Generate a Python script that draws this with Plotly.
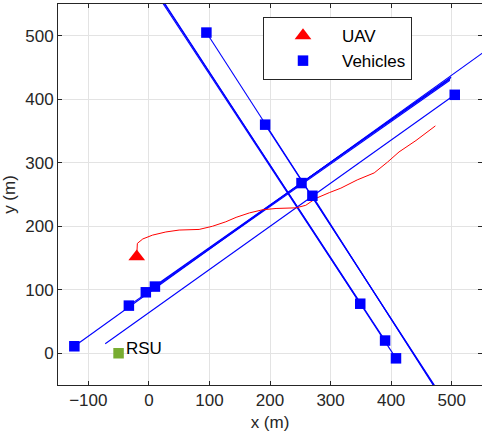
import plotly.graph_objects as go

# ---------------- data ----------------
vehicle_x = [95, 192, 252, 270, 505, 349, 390, 408, -123, -33, -5, 10]
vehicle_y = [505, 360, 268, 248, 407, 78, 20, -8, 11, 75, 96, 105]

# trajectory end points for each vehicle (same order as above)
traj_end_x = [477, 478, 497, 476, -72, 17, 19, 20, 560, 497, 498, 499]
traj_end_y = [-60, -60, 432, -60, 15, 560, 560, 560, 479, 430, 433, 435]

uav_x = [-20]
uav_y = [152]
uav_path_x = [-20, -20, -19, -10, 6, 28, 50, 83, 105, 127, 144, 166, 188, 210,
              243, 259, 276, 298, 317, 344, 372, 394, 413, 441, 473]
uav_path_y = [152, 167, 173, 180, 186, 191, 194, 195, 200, 207, 214, 221, 226, 228,
              229, 233, 244, 253, 260, 273, 284, 301, 317, 335, 358]

rsu_x = [-50]
rsu_y = [0]
rsu_label = "RSU"

x_ticks = [-100, 0, 100, 200, 300, 400, 500]
y_ticks = [0, 100, 200, 300, 400, 500]
x_range = [-150, 550]
y_range = [-50, 550]

FONT = "Liberation Sans, Arial, Helvetica, sans-serif"
AX = "#262626"
BLUE = "#0000FF"
RED = "#FF0000"
GREEN = "#77AC30"

fig = go.Figure()

# vehicle trajectories
for sx, sy, ex, ey in zip(vehicle_x, vehicle_y, traj_end_x, traj_end_y):
    fig.add_trace(go.Scatter(x=[sx, ex], y=[sy, ey], mode="lines",
                             line=dict(color=BLUE, width=1.1),
                             showlegend=False, hoverinfo="skip"))

# UAV trajectory
fig.add_trace(go.Scatter(x=uav_path_x, y=uav_path_y, mode="lines",
                         line=dict(color=RED, width=1),
                         showlegend=False, hoverinfo="skip"))

# UAV marker
fig.add_trace(go.Scatter(x=uav_x, y=uav_y, mode="markers", name="UAV",
                         marker=dict(symbol="triangle-up", size=14.5, color=RED,
                                     line=dict(width=0))))

# Vehicles
fig.add_trace(go.Scatter(x=vehicle_x, y=vehicle_y, mode="markers", name="Vehicles",
                         marker=dict(symbol="square", size=10.5, color=BLUE,
                                     line=dict(width=0))))

# RSU
fig.add_trace(go.Scatter(x=rsu_x, y=rsu_y, mode="markers", showlegend=False,
                         marker=dict(symbol="square", size=10.5, color=GREEN,
                                     line=dict(width=0))))
fig.add_annotation(x=rsu_x[0], y=rsu_y[0], text=rsu_label, showarrow=False,
                   xanchor="left", yanchor="middle", xshift=5, yshift=5,
                   font=dict(family=FONT, size=17, color="black"))

axis_common = dict(showgrid=True, gridcolor="#e3e3e3", gridwidth=1,
                   zeroline=False, showline=True, linecolor=AX, linewidth=1,
                   mirror="ticks", ticks="inside", ticklen=4, tickcolor=AX,
                   tickfont=dict(family=FONT, size=17, color=AX),
                   automargin=False)

fig.update_xaxes(range=x_range, tickvals=x_ticks,
                 title=dict(text="x (m)", font=dict(family=FONT, size=17, color=AX),
                            standoff=6),
                 **axis_common)
fig.update_yaxes(range=y_range, tickvals=y_ticks,
                 title=dict(text="y (m)", font=dict(family=FONT, size=17, color=AX),
                            standoff=6),
                 **axis_common)

fig.update_layout(
    width=482, height=439,
    margin=dict(l=58, r=0, t=4, b=54),
    plot_bgcolor="white", paper_bgcolor="white",
    font=dict(family=FONT, size=17, color=AX),
    legend=dict(x=0.4835, y=0.9659, xanchor="left", yanchor="top",
                bgcolor="white", bordercolor=AX, borderwidth=1,
                font=dict(family=FONT, size=17, color="black"),
                itemwidth=68),
)

fig.write_html("out.html", config={"displayModeBar": False},
               post_script="document.body.style.margin='0';document.body.style.overflow='hidden';")
